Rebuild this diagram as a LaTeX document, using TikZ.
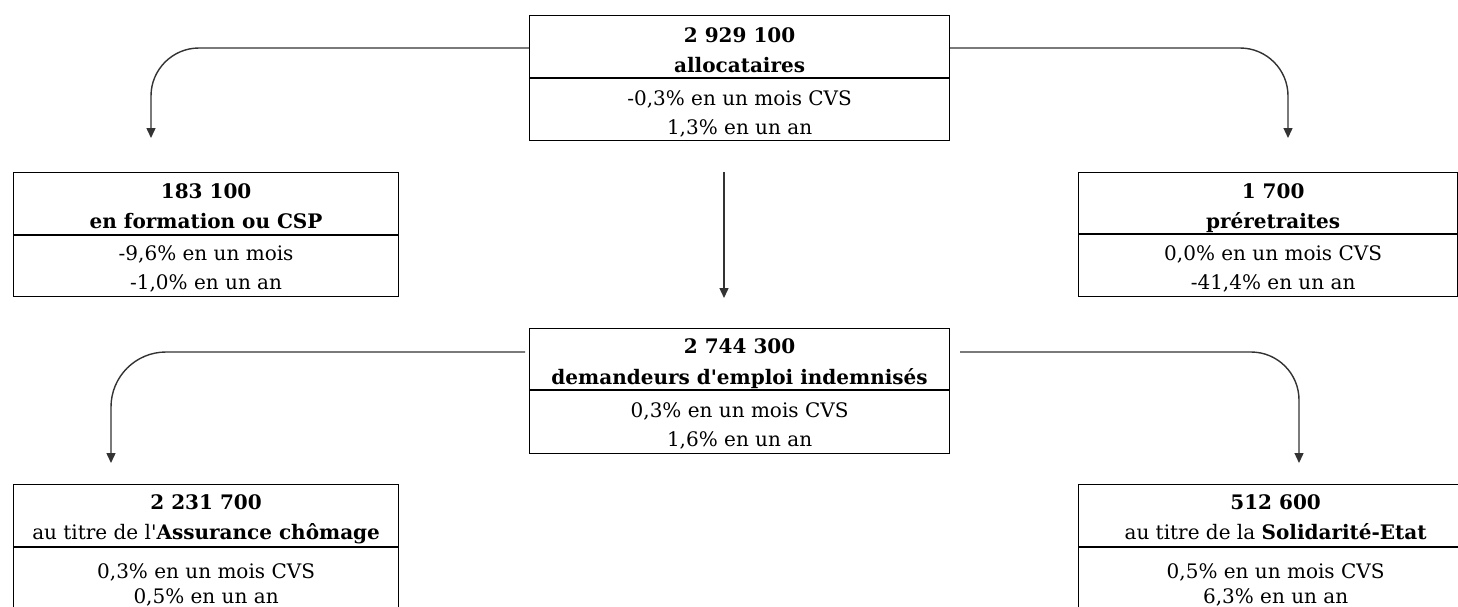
\documentclass[tikz,border=0pt]{standalone}
\usepackage{fontspec}
\setmainfont{DejaVu Serif}[Ligatures=TeXOff]
\usetikzlibrary{arrows.meta}
\begin{document}
\begin{tikzpicture}[x=1pt,y=-1pt,
  box/.style={draw=black,line width=1.2pt,anchor=north west,inner sep=0pt},
  div/.style={draw=black,line width=1.2pt},
  txt/.style={anchor=base,inner sep=0pt,font=\fontsize{20}{22}\selectfont},
  conn/.style={draw=black!80,line width=1.4pt,rounded corners=48pt,-{Triangle[width=9pt,length=10pt]}}]
\useasboundingbox[fill=white] (0,0) rectangle (1458,606);
\clip (0,0) rectangle (1458,606);
% top box
\node[box,minimum width=420pt,minimum height=125pt] (top) at (529,15) {};
\node[txt] (t1) at ([yshift=-27pt]top.north) {\bfseries 2 929 100};
\node[txt] (t2) at ([yshift=-57pt]top.north) {\bfseries allocataires};
\draw[div] ([yshift=-63pt]top.north west) -- ([yshift=-63pt]top.north east);
\node[txt] (t3) at ([yshift=-90pt]top.north) {-0,3\% en un mois CVS};
\node[txt] (t4) at ([yshift=-119pt]top.north) {1,3\% en un an};
% formation box
\node[box,minimum width=385pt,minimum height=124pt] (form) at (13,172) {};
\node[txt] (f1) at ([yshift=-26pt]form.north) {\bfseries 183 100};
\node[txt] (f2) at ([yshift=-56pt]form.north) {\bfseries en formation ou CSP};
\draw[div] ([yshift=-63pt]form.north west) -- ([yshift=-63pt]form.north east);
\node[txt] (f3) at ([yshift=-88pt]form.north) {-9,6\% en un mois};
\node[txt] (f4) at ([yshift=-117pt]form.north) {-1,0\% en un an};
% preretraites box
\node[box,minimum width=379pt,minimum height=124pt] (pre) at (1078,172) {};
\node[txt] (p1) at ([xshift=5pt,yshift=-26pt]pre.north) {\bfseries 1 700};
\node[txt] (p2) at ([xshift=5pt,yshift=-56pt]pre.north) {\bfseries préretraites};
\draw[div] ([yshift=-62pt]pre.north west) -- ([yshift=-62pt]pre.north east);
\node[txt] (p3) at ([xshift=5pt,yshift=-88pt]pre.north) {0,0\% en un mois CVS};
\node[txt] (p4) at ([xshift=5pt,yshift=-117pt]pre.north) {-41,4\% en un an};
% middle box
\node[box,minimum width=420pt,minimum height=125pt] (mid) at (529,328) {};
\node[txt] (m1) at ([yshift=-25pt]mid.north) {\bfseries 2 744 300};
\node[txt] (m2) at ([yshift=-56pt]mid.north) {\bfseries demandeurs d'emploi indemnisés};
\draw[div] ([yshift=-62pt]mid.north west) -- ([yshift=-62pt]mid.north east);
\node[txt] (m3) at ([yshift=-89pt]mid.north) {0,3\% en un mois CVS};
\node[txt] (m4) at ([yshift=-118pt]mid.north) {1,6\% en un an};
% assurance box
\node[box,minimum width=385pt,minimum height=130pt] (assu) at (13,484) {};
\node[txt] (a1) at ([yshift=-25pt]assu.north) {\bfseries 2 231 700};
\node[txt] (a2) at ([yshift=-55pt]assu.north) {au titre de l'\textbf{Assurance chômage}};
\draw[div] ([yshift=-63pt]assu.north west) -- ([yshift=-63pt]assu.north east);
\node[txt] (a3) at ([yshift=-94pt]assu.north) {0,3\% en un mois CVS};
\node[txt] (a4) at ([yshift=-119pt]assu.north) {0,5\% en un an};
% solidarite box
\node[box,minimum width=394pt,minimum height=130pt] (soli) at (1078,484) {};
\node[txt] (s1) at ([yshift=-25pt]soli.north) {\bfseries 512 600};
\node[txt] (s2) at ([yshift=-55pt]soli.north) {au titre de la \textbf{Solidarité-Etat}};
\draw[div] ([yshift=-63pt]soli.north west) -- ([yshift=-63pt]soli.north east);
\node[txt] (s3) at ([yshift=-94pt]soli.north) {0,5\% en un mois CVS};
\node[txt] (s4) at ([yshift=-119pt]soli.north) {6,3\% en un an};
% connector ends
\coordinate (tl) at (151,138);
\coordinate (tr) at (1288,138);
\coordinate (cs) at (724,172);
\coordinate (ce) at (724,298);
\coordinate (ml0) at (525,352);
\coordinate (ml) at (111,463);
\coordinate (mr0) at (960,352);
\coordinate (mr) at (1299,463);
\draw[conn] (top.west |- 0,48) -| (tl);
\draw[conn] (top.east |- 0,48) -| (tr);
\draw[conn] (cs) -- (ce);
\draw[conn,rounded corners=55pt] (ml0) -| (ml);
\draw[conn] (mr0) -| (mr);
\end{tikzpicture}
\end{document}
